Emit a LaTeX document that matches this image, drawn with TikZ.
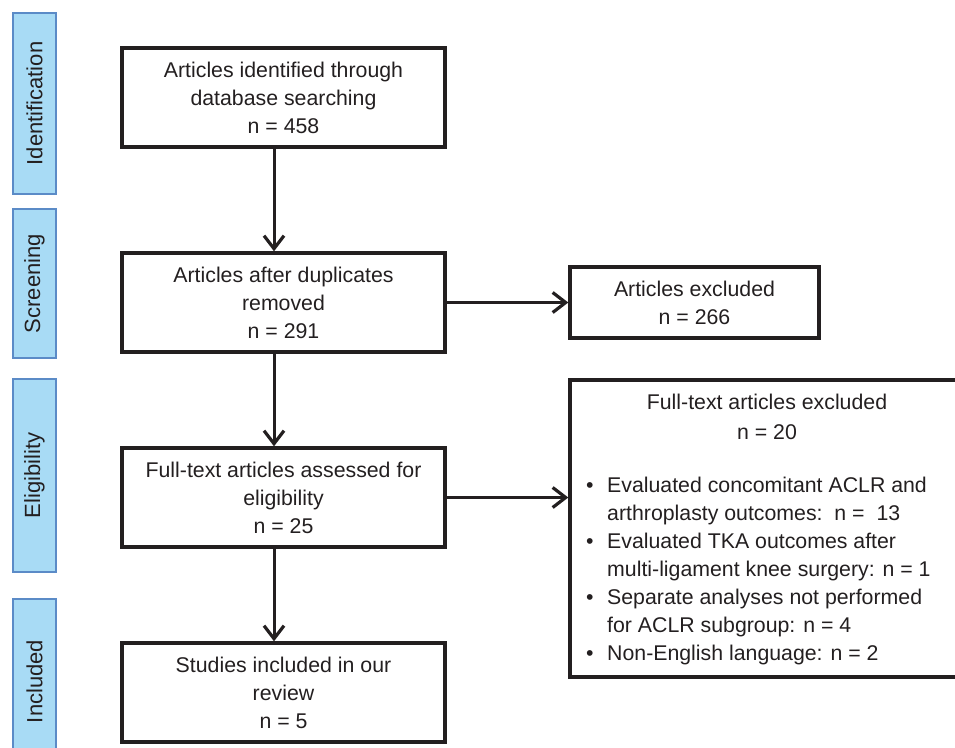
\documentclass[tikz,border=0pt]{standalone}
\usepackage{fontspec}
\setmainfont{Liberation Sans}
\usetikzlibrary{arrows.meta}
\definecolor{ink}{HTML}{231F20}
\definecolor{phasefill}{HTML}{A8DBF5}
\definecolor{phaseline}{HTML}{5B8BC7}
\begin{document}
\begin{tikzpicture}[x=1pt,y=-1pt,
  box/.style={draw=ink, line width=3.4pt, minimum width=323pt, minimum height=99pt,
    align=center, inner sep=0pt, text=ink, font=\fontsize{21.3}{28}\selectfont},
  phase/.style={draw=phaseline, fill=phasefill, line width=1.5pt, rotate=90,
    minimum height=43pt, inner sep=0pt, text=ink, font=\fontsize{22}{26}\selectfont},
  txt/.style={inner sep=0pt, text=ink, font=\fontsize{21.3}{28}\selectfont},
  flow/.style={draw=ink, line width=3pt, -{Straight Barb[length=13pt,width=20pt,line width=3.2pt]}}
]
\useasboundingbox (0,0) rectangle (955,747);
\clip (0,0) rectangle (955,747);

% phase labels
\node[phase, minimum width=181pt] (pid) at (34.5,103.5) {Identification};
\node[phase, minimum width=149pt] (psc) at (34.5,283.5) {Screening};
\node[phase, minimum width=193pt] (pel) at (34.5,475.5) {Eligibility};
\node[phase, minimum width=165pt] (pin) at (34.5,681.5) {Included};

% main boxes
\node[box] (b1) at (283.5,97.5) {Articles identified through\\database searching\\n = 458};
\node[box] (b2) at (283.5,302.5) {Articles after duplicates\\removed\\n = 291};
\node[box] (b3) at (283.5,497.5) {Full-text articles assessed for\\eligibility\\n = 25};
\node[box] (b4) at (283.5,692.5) {Studies included in our\\review\\n = 5};

% exclusion boxes
\node[box, minimum width=249pt, minimum height=71pt] (e1) at (694.5,302.5) {Articles excluded\\n = 266};
\node[box, minimum width=395pt, minimum height=297pt] (e2) at (767.5,528.5) {};
\node[txt, align=center, font=\fontsize{21.3}{30}\selectfont] (e2t) at (767,417) {Full-text articles excluded\\n = 20};
\node[txt, align=left, anchor=west] (e2l) at (586,570.5)
  {\makebox[21pt][l]{•}Evaluated concomitant ACLR and\\
   \hspace*{21pt}arthroplasty outcomes:\ \ n =\ \ 13\\
   \makebox[21pt][l]{•}Evaluated TKA outcomes after\\
   \hspace*{21pt}multi-ligament knee surgery: n = 1\\
   \makebox[21pt][l]{•}Separate analyses not performed\\
   \hspace*{21pt}for ACLR subgroup: n = 4\\
   \makebox[21pt][l]{•}Non-English language: n = 2};

% connectors
\draw[flow] ([xshift=-9.5pt]b1.south) -- ([xshift=-9.5pt]b2.north);
\draw[flow] ([xshift=-9.5pt]b2.south) -- ([xshift=-9.5pt]b3.north);
\draw[flow] ([xshift=-9.5pt]b3.south) -- ([xshift=-9.5pt]b4.north);
\draw[flow] (b2.east) -- (e1.west);
\draw[flow] (b3.east) -- (b3.east -| e2.west);
\end{tikzpicture}
\end{document}
